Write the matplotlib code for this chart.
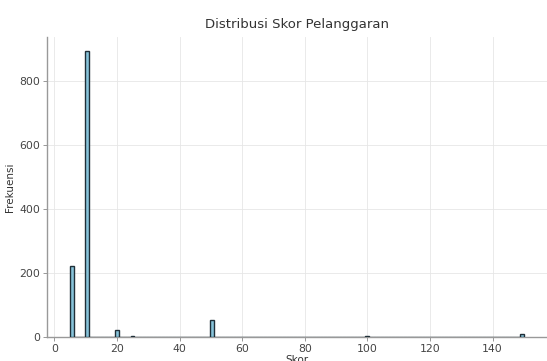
import numpy as np
import matplotlib
matplotlib.use("Agg")
import matplotlib.pyplot as plt

# skor yang muncul dan jumlahnya
skor = [5, 10, 20, 25, 50, 100, 150]
jumlah = [222, 894, 23, 2, 53, 4, 8]

data = np.repeat(skor, jumlah)

fig = plt.figure(figsize=(5.47, 3.61), dpi=100)
ax = fig.add_axes([47.3 / 547, 24 / 361, (546.5 - 47.3) / 547, 0.832])

ax.hist(data, bins=120, color="#87c3da", edgecolor="#1f2f38", linewidth=1.0, zorder=3)

ax.set_title("Distribusi Skor Pelanggaran", fontsize=9.5, color="#333333")
ax.set_xlabel("Skor", fontsize=7.5, color="#333333", labelpad=1)
ax.set_ylabel("Frekuensi", fontsize=7.5, color="#333333", labelpad=3)

ax.set_xticks([0, 20, 40, 60, 80, 100, 120, 140])
ax.set_yticks([0, 200, 400, 600, 800])
ax.tick_params(labelsize=7.8, colors="#444444", length=3, width=0.6, color="#888888", pad=2)

ax.grid(True, color="#e6e6e6", linewidth=0.6, zorder=0)
for s in ["top", "right"]:
    ax.spines[s].set_visible(False)
for s in ["left", "bottom"]:
    ax.spines[s].set_color("#999999")
    ax.spines[s].set_linewidth(1.0)

fig.savefig("out.png", dpi=100)
